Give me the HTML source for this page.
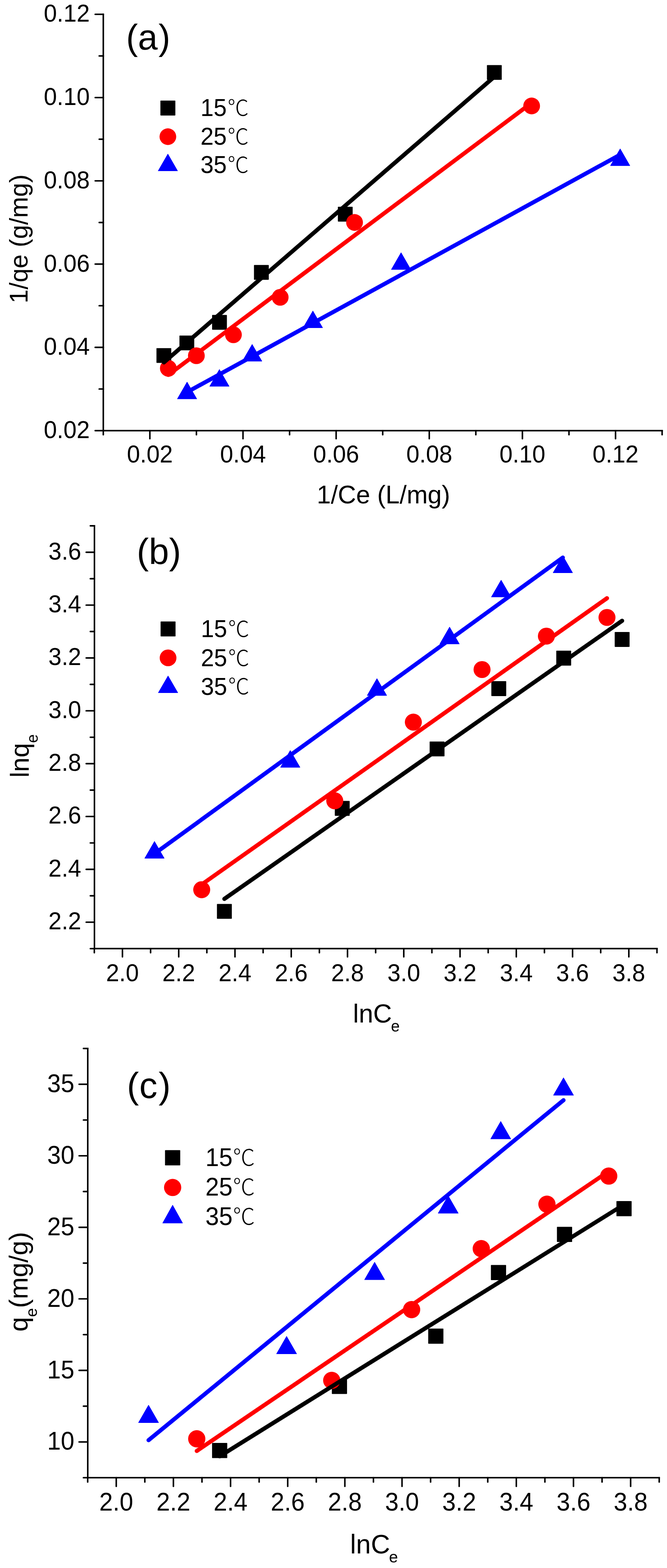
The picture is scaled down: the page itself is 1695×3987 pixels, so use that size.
<!DOCTYPE html>
<html><head><meta charset="utf-8"><title>Adsorption isotherm fits</title>
<style>html,body{margin:0;padding:0;background:#fff;} svg{display:block;}</style></head>
<body>
<svg width="1695" height="3987" viewBox="0 0 1695 3987" font-family="'Liberation Sans', Arial, sans-serif">
<rect width="1695" height="3987" fill="#fff"/>
<g stroke="#000" stroke-width="3.9" stroke-linecap="round" fill="none">
<line x1="262.5" y1="36.4" x2="262.5" y2="1095" stroke-linecap="square"/>
<line x1="262.5" y1="1095" x2="1682.58" y2="1095" stroke-linecap="square"/>
<line x1="241.9" y1="1095" x2="262.5" y2="1095"/>
<line x1="241.9" y1="883.28" x2="262.5" y2="883.28"/>
<line x1="241.9" y1="671.56" x2="262.5" y2="671.56"/>
<line x1="241.9" y1="459.84" x2="262.5" y2="459.84"/>
<line x1="241.9" y1="248.12" x2="262.5" y2="248.12"/>
<line x1="241.9" y1="36.4" x2="262.5" y2="36.4"/>
<line x1="252.1" y1="989.14" x2="262.5" y2="989.14"/>
<line x1="252.1" y1="777.42" x2="262.5" y2="777.42"/>
<line x1="252.1" y1="565.7" x2="262.5" y2="565.7"/>
<line x1="252.1" y1="353.98" x2="262.5" y2="353.98"/>
<line x1="252.1" y1="142.26" x2="262.5" y2="142.26"/>
<line x1="380.84" y1="1095" x2="380.84" y2="1115.6"/>
<line x1="617.52" y1="1095" x2="617.52" y2="1115.6"/>
<line x1="854.2" y1="1095" x2="854.2" y2="1115.6"/>
<line x1="1090.88" y1="1095" x2="1090.88" y2="1115.6"/>
<line x1="1327.56" y1="1095" x2="1327.56" y2="1115.6"/>
<line x1="1564.24" y1="1095" x2="1564.24" y2="1115.6"/>
<line x1="262.5" y1="1095" x2="262.5" y2="1105.4"/>
<line x1="499.18" y1="1095" x2="499.18" y2="1105.4"/>
<line x1="735.86" y1="1095" x2="735.86" y2="1105.4"/>
<line x1="972.54" y1="1095" x2="972.54" y2="1105.4"/>
<line x1="1209.22" y1="1095" x2="1209.22" y2="1105.4"/>
<line x1="1445.9" y1="1095" x2="1445.9" y2="1105.4"/>
<line x1="1682.58" y1="1095" x2="1682.58" y2="1105.4"/>
</g>
<g font-size="60" fill="#000">
<text transform="translate(228,1114) scale(1,1.04)" text-anchor="end">0.02</text>
<text transform="translate(228,902.28) scale(1,1.04)" text-anchor="end">0.04</text>
<text transform="translate(228,690.56) scale(1,1.04)" text-anchor="end">0.06</text>
<text transform="translate(228,478.84) scale(1,1.04)" text-anchor="end">0.08</text>
<text transform="translate(228,267.12) scale(1,1.04)" text-anchor="end">0.10</text>
<text transform="translate(228,55.4) scale(1,1.04)" text-anchor="end">0.12</text>
<text transform="translate(380.84,1176.4) scale(1,1.04)" text-anchor="middle">0.02</text>
<text transform="translate(617.52,1176.4) scale(1,1.04)" text-anchor="middle">0.04</text>
<text transform="translate(854.2,1176.4) scale(1,1.04)" text-anchor="middle">0.06</text>
<text transform="translate(1090.88,1176.4) scale(1,1.04)" text-anchor="middle">0.08</text>
<text transform="translate(1327.56,1176.4) scale(1,1.04)" text-anchor="middle">0.10</text>
<text transform="translate(1564.24,1176.4) scale(1,1.04)" text-anchor="middle">0.12</text>
</g>
<rect x="397.6" y="885.2" width="37.6" height="37.6" rx="1.1" fill="#000"/>
<rect x="456" y="853.2" width="37.6" height="37.6" rx="1.1" fill="#000"/>
<rect x="539" y="800.8" width="37.6" height="37.6" rx="1.1" fill="#000"/>
<rect x="645.4" y="673.8" width="37.6" height="37.6" rx="1.1" fill="#000"/>
<rect x="858.6" y="525.8" width="37.6" height="37.6" rx="1.1" fill="#000"/>
<rect x="1237.4" y="165.4" width="37.6" height="37.6" rx="1.1" fill="#000"/>
<circle cx="427.8" cy="936.5" r="21.3" fill="#f00"/>
<circle cx="499" cy="904.5" r="21.3" fill="#f00"/>
<circle cx="593.2" cy="851.2" r="21.3" fill="#f00"/>
<circle cx="712" cy="756" r="21.3" fill="#f00"/>
<circle cx="901" cy="565.6" r="21.3" fill="#f00"/>
<circle cx="1351" cy="269.4" r="21.3" fill="#f00"/>
<path d="M475.4 971.6L500 1014.2L450.8 1014.2Z" fill="#00f" stroke="#00f" stroke-width="1.2" stroke-linejoin="round"/>
<path d="M557.6 939.6L582.2 982.2L533 982.2Z" fill="#00f" stroke="#00f" stroke-width="1.2" stroke-linejoin="round"/>
<path d="M640.8 875.7L665.4 918.3L616.2 918.3Z" fill="#00f" stroke="#00f" stroke-width="1.2" stroke-linejoin="round"/>
<path d="M795.1 790.7L819.7 833.3L770.5 833.3Z" fill="#00f" stroke="#00f" stroke-width="1.2" stroke-linejoin="round"/>
<path d="M1019.2 642.6L1043.8 685.2L994.6 685.2Z" fill="#00f" stroke="#00f" stroke-width="1.2" stroke-linejoin="round"/>
<path d="M1576 378.6L1600.6 421.2L1551.4 421.2Z" fill="#00f" stroke="#00f" stroke-width="1.2" stroke-linejoin="round"/>
<line x1="416.4" y1="921.45" x2="1256.2" y2="195.34" stroke="#000" stroke-width="10.5" stroke-linecap="round"/>
<line x1="427.8" y1="953.31" x2="1351" y2="261.51" stroke="#f00" stroke-width="10.5" stroke-linecap="round"/>
<line x1="475.4" y1="997.05" x2="1576" y2="393.38" stroke="#00f" stroke-width="10.5" stroke-linecap="round"/>
<rect x="407.6" y="255.7" width="38" height="38" rx="1.1" fill="#000"/>
<circle cx="426.6" cy="347.5" r="21.2" fill="#f00"/>
<path d="M426.6 391.8L451.2 434.5L402 434.5Z" fill="#00f" stroke="#00f" stroke-width="1.2" stroke-linejoin="round"/>
<text transform="translate(509.5,295.2) scale(1,1.04)" font-size="60">15<tspan font-family="'Noto Sans CJK SC', 'Noto Sans CJK JP', sans-serif" font-weight="300" font-size="54" dx="2" dy="-1">℃</tspan></text>
<text transform="translate(509.5,368) scale(1,1.04)" font-size="60">25<tspan font-family="'Noto Sans CJK SC', 'Noto Sans CJK JP', sans-serif" font-weight="300" font-size="54" dx="2" dy="-1">℃</tspan></text>
<text transform="translate(509.5,439.8) scale(1,1.04)" font-size="60">35<tspan font-family="'Noto Sans CJK SC', 'Noto Sans CJK JP', sans-serif" font-weight="300" font-size="54" dx="2" dy="-1">℃</tspan></text>
<text x="320.6" y="126" font-size="90">(a<tspan dx="2">)</tspan></text>
<text x="974.5" y="1280" font-size="64.2" text-anchor="middle">1/Ce (L/mg)</text>
<text transform="translate(70,607.5) rotate(-90)" x="0" y="0" font-size="64.2" text-anchor="middle">1/qe (g/mg)</text>
<g stroke="#000" stroke-width="3.9" stroke-linecap="round" fill="none">
<line x1="240" y1="1337.06" x2="240" y2="2412" stroke-linecap="square"/>
<line x1="240" y1="2412" x2="1669.5" y2="2412" stroke-linecap="square"/>
<line x1="219" y1="2344.91" x2="240" y2="2344.91"/>
<line x1="219" y1="2210.53" x2="240" y2="2210.53"/>
<line x1="219" y1="2076.15" x2="240" y2="2076.15"/>
<line x1="219" y1="1941.77" x2="240" y2="1941.77"/>
<line x1="219" y1="1807.39" x2="240" y2="1807.39"/>
<line x1="219" y1="1673.01" x2="240" y2="1673.01"/>
<line x1="219" y1="1538.63" x2="240" y2="1538.63"/>
<line x1="219" y1="1404.25" x2="240" y2="1404.25"/>
<line x1="229.5" y1="2412.1" x2="240" y2="2412.1"/>
<line x1="229.5" y1="2277.72" x2="240" y2="2277.72"/>
<line x1="229.5" y1="2143.34" x2="240" y2="2143.34"/>
<line x1="229.5" y1="2008.96" x2="240" y2="2008.96"/>
<line x1="229.5" y1="1874.58" x2="240" y2="1874.58"/>
<line x1="229.5" y1="1740.2" x2="240" y2="1740.2"/>
<line x1="229.5" y1="1605.82" x2="240" y2="1605.82"/>
<line x1="229.5" y1="1471.44" x2="240" y2="1471.44"/>
<line x1="229.5" y1="1337.06" x2="240" y2="1337.06"/>
<line x1="311.19" y1="2412" x2="311.19" y2="2433"/>
<line x1="454.17" y1="2412" x2="454.17" y2="2433"/>
<line x1="597.15" y1="2412" x2="597.15" y2="2433"/>
<line x1="740.13" y1="2412" x2="740.13" y2="2433"/>
<line x1="883.11" y1="2412" x2="883.11" y2="2433"/>
<line x1="1026.09" y1="2412" x2="1026.09" y2="2433"/>
<line x1="1169.07" y1="2412" x2="1169.07" y2="2433"/>
<line x1="1312.05" y1="2412" x2="1312.05" y2="2433"/>
<line x1="1455.03" y1="2412" x2="1455.03" y2="2433"/>
<line x1="1598.01" y1="2412" x2="1598.01" y2="2433"/>
<line x1="239.7" y1="2412" x2="239.7" y2="2422.5"/>
<line x1="382.68" y1="2412" x2="382.68" y2="2422.5"/>
<line x1="525.66" y1="2412" x2="525.66" y2="2422.5"/>
<line x1="668.64" y1="2412" x2="668.64" y2="2422.5"/>
<line x1="811.62" y1="2412" x2="811.62" y2="2422.5"/>
<line x1="954.6" y1="2412" x2="954.6" y2="2422.5"/>
<line x1="1097.58" y1="2412" x2="1097.58" y2="2422.5"/>
<line x1="1240.56" y1="2412" x2="1240.56" y2="2422.5"/>
<line x1="1383.54" y1="2412" x2="1383.54" y2="2422.5"/>
<line x1="1526.52" y1="2412" x2="1526.52" y2="2422.5"/>
<line x1="1669.5" y1="2412" x2="1669.5" y2="2422.5"/>
</g>
<g font-size="60" fill="#000">
<text transform="translate(206.5,2363.21) scale(1,1.04)" text-anchor="end">2.2</text>
<text transform="translate(206.5,2228.83) scale(1,1.04)" text-anchor="end">2.4</text>
<text transform="translate(206.5,2094.45) scale(1,1.04)" text-anchor="end">2.6</text>
<text transform="translate(206.5,1960.07) scale(1,1.04)" text-anchor="end">2.8</text>
<text transform="translate(206.5,1825.69) scale(1,1.04)" text-anchor="end">3.0</text>
<text transform="translate(206.5,1691.31) scale(1,1.04)" text-anchor="end">3.2</text>
<text transform="translate(206.5,1556.93) scale(1,1.04)" text-anchor="end">3.4</text>
<text transform="translate(206.5,1422.55) scale(1,1.04)" text-anchor="end">3.6</text>
<text transform="translate(311.19,2495.2) scale(1,1.04)" text-anchor="middle">2.0</text>
<text transform="translate(454.17,2495.2) scale(1,1.04)" text-anchor="middle">2.2</text>
<text transform="translate(597.15,2495.2) scale(1,1.04)" text-anchor="middle">2.4</text>
<text transform="translate(740.13,2495.2) scale(1,1.04)" text-anchor="middle">2.6</text>
<text transform="translate(883.11,2495.2) scale(1,1.04)" text-anchor="middle">2.8</text>
<text transform="translate(1026.09,2495.2) scale(1,1.04)" text-anchor="middle">3.0</text>
<text transform="translate(1169.07,2495.2) scale(1,1.04)" text-anchor="middle">3.2</text>
<text transform="translate(1312.05,2495.2) scale(1,1.04)" text-anchor="middle">3.4</text>
<text transform="translate(1455.03,2495.2) scale(1,1.04)" text-anchor="middle">3.6</text>
<text transform="translate(1598.01,2495.2) scale(1,1.04)" text-anchor="middle">3.8</text>
</g>
<rect x="551.3" y="2298.5" width="37.8" height="37.8" rx="1.1" fill="#000"/>
<rect x="850.8" y="2036.6" width="37.8" height="37.8" rx="1.1" fill="#000"/>
<rect x="1091.8" y="1885.4" width="37.8" height="37.8" rx="1.1" fill="#000"/>
<rect x="1248.6" y="1732.1" width="37.8" height="37.8" rx="1.1" fill="#000"/>
<rect x="1413.6" y="1654.6" width="37.8" height="37.8" rx="1.1" fill="#000"/>
<rect x="1562.1" y="1607.1" width="37.8" height="37.8" rx="1.1" fill="#000"/>
<circle cx="512.6" cy="2262.3" r="21.6" fill="#f00"/>
<circle cx="850.7" cy="2036.2" r="21.6" fill="#f00"/>
<circle cx="1050.4" cy="1836.2" r="21.6" fill="#f00"/>
<circle cx="1225" cy="1702.5" r="21.6" fill="#f00"/>
<circle cx="1388.5" cy="1617.5" r="21.6" fill="#f00"/>
<circle cx="1542.5" cy="1570" r="21.6" fill="#f00"/>
<path d="M392.6 2139.6L417.25 2182.3L367.95 2182.3Z" fill="#00f" stroke="#00f" stroke-width="1.2" stroke-linejoin="round"/>
<path d="M737.6 1908.4L762.25 1951.1L712.95 1951.1Z" fill="#00f" stroke="#00f" stroke-width="1.2" stroke-linejoin="round"/>
<path d="M957.9 1725.6L982.55 1768.3L933.25 1768.3Z" fill="#00f" stroke="#00f" stroke-width="1.2" stroke-linejoin="round"/>
<path d="M1142.5 1594.6L1167.15 1637.3L1117.85 1637.3Z" fill="#00f" stroke="#00f" stroke-width="1.2" stroke-linejoin="round"/>
<path d="M1273.5 1475.2L1298.15 1517.9L1248.85 1517.9Z" fill="#00f" stroke="#00f" stroke-width="1.2" stroke-linejoin="round"/>
<path d="M1430.3 1413.6L1454.95 1456.3L1405.65 1456.3Z" fill="#00f" stroke="#00f" stroke-width="1.2" stroke-linejoin="round"/>
<line x1="570.2" y1="2285.64" x2="1581" y2="1578.42" stroke="#000" stroke-width="10.5" stroke-linecap="round"/>
<line x1="512.6" y1="2249.07" x2="1542.5" y2="1521.11" stroke="#f00" stroke-width="10.5" stroke-linecap="round"/>
<line x1="392.6" y1="2170.85" x2="1430.3" y2="1417.74" stroke="#00f" stroke-width="10.5" stroke-linecap="round"/>
<rect x="408.1" y="1580.3" width="38" height="38" rx="1.1" fill="#000"/>
<circle cx="427.1" cy="1672.8" r="21.3" fill="#f00"/>
<path d="M427.1 1718.8L451.7 1761.4L402.5 1761.4Z" fill="#00f" stroke="#00f" stroke-width="1.2" stroke-linejoin="round"/>
<text transform="translate(510.5,1620.3) scale(1,1.04)" font-size="60">15<tspan font-family="'Noto Sans CJK SC', 'Noto Sans CJK JP', sans-serif" font-weight="300" font-size="54" dx="2.5" dy="-1">℃</tspan></text>
<text transform="translate(510.5,1693.6) scale(1,1.04)" font-size="60">25<tspan font-family="'Noto Sans CJK SC', 'Noto Sans CJK JP', sans-serif" font-weight="300" font-size="54" dx="2.5" dy="-1">℃</tspan></text>
<text transform="translate(510.5,1766.5) scale(1,1.04)" font-size="60">35<tspan font-family="'Noto Sans CJK SC', 'Noto Sans CJK JP', sans-serif" font-weight="300" font-size="54" dx="2.5" dy="-1">℃</tspan></text>
<text x="347.6" y="1434" font-size="92">(b)</text>
<text x="956.4" y="2600" font-size="66" text-anchor="middle">lnC<tspan font-size="40" dx="-2.5" dy="23">e</tspan></text>
<text transform="translate(72.9,1977.3) rotate(-90)" x="0" y="0" font-size="66">lnq<tspan font-size="40" dy="23">e</tspan></text>
<g stroke="#000" stroke-width="3.9" stroke-linecap="round" fill="none">
<line x1="223" y1="2666" x2="223" y2="3757.4" stroke-linecap="square"/>
<line x1="223" y1="3757.4" x2="1675.2" y2="3757.4" stroke-linecap="square"/>
<line x1="201" y1="3666.45" x2="223" y2="3666.45"/>
<line x1="201" y1="3484.55" x2="223" y2="3484.55"/>
<line x1="201" y1="3302.65" x2="223" y2="3302.65"/>
<line x1="201" y1="3120.75" x2="223" y2="3120.75"/>
<line x1="201" y1="2938.85" x2="223" y2="2938.85"/>
<line x1="201" y1="2756.95" x2="223" y2="2756.95"/>
<line x1="212" y1="3757.4" x2="223" y2="3757.4"/>
<line x1="212" y1="3575.5" x2="223" y2="3575.5"/>
<line x1="212" y1="3393.6" x2="223" y2="3393.6"/>
<line x1="212" y1="3211.7" x2="223" y2="3211.7"/>
<line x1="212" y1="3029.8" x2="223" y2="3029.8"/>
<line x1="212" y1="2847.9" x2="223" y2="2847.9"/>
<line x1="212" y1="2666" x2="223" y2="2666"/>
<line x1="295.42" y1="3757.4" x2="295.42" y2="3779.4"/>
<line x1="440.66" y1="3757.4" x2="440.66" y2="3779.4"/>
<line x1="585.9" y1="3757.4" x2="585.9" y2="3779.4"/>
<line x1="731.14" y1="3757.4" x2="731.14" y2="3779.4"/>
<line x1="876.38" y1="3757.4" x2="876.38" y2="3779.4"/>
<line x1="1021.62" y1="3757.4" x2="1021.62" y2="3779.4"/>
<line x1="1166.86" y1="3757.4" x2="1166.86" y2="3779.4"/>
<line x1="1312.1" y1="3757.4" x2="1312.1" y2="3779.4"/>
<line x1="1457.34" y1="3757.4" x2="1457.34" y2="3779.4"/>
<line x1="1602.58" y1="3757.4" x2="1602.58" y2="3779.4"/>
<line x1="222.8" y1="3757.4" x2="222.8" y2="3768.4"/>
<line x1="368.04" y1="3757.4" x2="368.04" y2="3768.4"/>
<line x1="513.28" y1="3757.4" x2="513.28" y2="3768.4"/>
<line x1="658.52" y1="3757.4" x2="658.52" y2="3768.4"/>
<line x1="803.76" y1="3757.4" x2="803.76" y2="3768.4"/>
<line x1="949" y1="3757.4" x2="949" y2="3768.4"/>
<line x1="1094.24" y1="3757.4" x2="1094.24" y2="3768.4"/>
<line x1="1239.48" y1="3757.4" x2="1239.48" y2="3768.4"/>
<line x1="1384.72" y1="3757.4" x2="1384.72" y2="3768.4"/>
<line x1="1529.96" y1="3757.4" x2="1529.96" y2="3768.4"/>
<line x1="1675.2" y1="3757.4" x2="1675.2" y2="3768.4"/>
</g>
<g font-size="62" fill="#000">
<text transform="translate(189,3686.45) scale(1,1.04)" text-anchor="end">10</text>
<text transform="translate(189,3504.55) scale(1,1.04)" text-anchor="end">15</text>
<text transform="translate(189,3322.65) scale(1,1.04)" text-anchor="end">20</text>
<text transform="translate(189,3140.75) scale(1,1.04)" text-anchor="end">25</text>
<text transform="translate(189,2958.85) scale(1,1.04)" text-anchor="end">30</text>
<text transform="translate(189,2776.95) scale(1,1.04)" text-anchor="end">35</text>
<text transform="translate(295.42,3841.4) scale(1,1.04)" text-anchor="middle">2.0</text>
<text transform="translate(440.66,3841.4) scale(1,1.04)" text-anchor="middle">2.2</text>
<text transform="translate(585.9,3841.4) scale(1,1.04)" text-anchor="middle">2.4</text>
<text transform="translate(731.14,3841.4) scale(1,1.04)" text-anchor="middle">2.6</text>
<text transform="translate(876.38,3841.4) scale(1,1.04)" text-anchor="middle">2.8</text>
<text transform="translate(1021.62,3841.4) scale(1,1.04)" text-anchor="middle">3.0</text>
<text transform="translate(1166.86,3841.4) scale(1,1.04)" text-anchor="middle">3.2</text>
<text transform="translate(1312.1,3841.4) scale(1,1.04)" text-anchor="middle">3.4</text>
<text transform="translate(1457.34,3841.4) scale(1,1.04)" text-anchor="middle">3.6</text>
<text transform="translate(1602.58,3841.4) scale(1,1.04)" text-anchor="middle">3.8</text>
</g>
<rect x="538.9" y="3668.9" width="38.6" height="38.6" rx="1.1" fill="#000"/>
<rect x="843.3" y="3505.9" width="38.6" height="38.6" rx="1.1" fill="#000"/>
<rect x="1088.2" y="3378.2" width="38.6" height="38.6" rx="1.1" fill="#000"/>
<rect x="1247.5" y="3216.5" width="38.6" height="38.6" rx="1.1" fill="#000"/>
<rect x="1415.3" y="3119.4" width="38.6" height="38.6" rx="1.1" fill="#000"/>
<rect x="1566.5" y="3053.9" width="38.6" height="38.6" rx="1.1" fill="#000"/>
<circle cx="500" cy="3658.5" r="21.9" fill="#f00"/>
<circle cx="843" cy="3510" r="21.9" fill="#f00"/>
<circle cx="1046" cy="3330" r="21.9" fill="#f00"/>
<circle cx="1223" cy="3175" r="21.9" fill="#f00"/>
<circle cx="1389.9" cy="3061.9" r="21.9" fill="#f00"/>
<circle cx="1546.9" cy="2990.4" r="21.9" fill="#f00"/>
<path d="M377.5 3573.1L402.9 3617.4L352.1 3617.4Z" fill="#00f" stroke="#00f" stroke-width="1.2" stroke-linejoin="round"/>
<path d="M728.3 3398.1L753.7 3442.4L702.9 3442.4Z" fill="#00f" stroke="#00f" stroke-width="1.2" stroke-linejoin="round"/>
<path d="M952 3209.6L977.4 3253.9L926.6 3253.9Z" fill="#00f" stroke="#00f" stroke-width="1.2" stroke-linejoin="round"/>
<path d="M1139 3040.6L1164.4 3084.9L1113.6 3084.9Z" fill="#00f" stroke="#00f" stroke-width="1.2" stroke-linejoin="round"/>
<path d="M1272.5 2851.6L1297.9 2895.9L1247.1 2895.9Z" fill="#00f" stroke="#00f" stroke-width="1.2" stroke-linejoin="round"/>
<path d="M1432 2740.6L1457.4 2784.9L1406.6 2784.9Z" fill="#00f" stroke="#00f" stroke-width="1.2" stroke-linejoin="round"/>
<line x1="558.2" y1="3702.93" x2="1585.8" y2="3062.89" stroke="#000" stroke-width="10.5" stroke-linecap="round"/>
<line x1="500" y1="3689.37" x2="1546.9" y2="2978.29" stroke="#f00" stroke-width="10.5" stroke-linecap="round"/>
<line x1="377.5" y1="3661.96" x2="1432" y2="2797.5" stroke="#00f" stroke-width="10.5" stroke-linecap="round"/>
<rect x="419.35" y="2924.55" width="38.7" height="38.7" rx="1.1" fill="#000"/>
<circle cx="438.7" cy="3019.4" r="21.9" fill="#f00"/>
<path d="M438.7 3064.6L463.85 3109.9L413.55 3109.9Z" fill="#00f" stroke="#00f" stroke-width="1.2" stroke-linejoin="round"/>
<text transform="translate(522,2965.2) scale(1,1.04)" font-size="62">15<tspan font-family="'Noto Sans CJK SC', 'Noto Sans CJK JP', sans-serif" font-weight="300" font-size="56" dx="1" dy="-1">℃</tspan></text>
<text transform="translate(522,3040) scale(1,1.04)" font-size="62">25<tspan font-family="'Noto Sans CJK SC', 'Noto Sans CJK JP', sans-serif" font-weight="300" font-size="56" dx="1" dy="-1">℃</tspan></text>
<text transform="translate(522,3115) scale(1,1.04)" font-size="62">35<tspan font-family="'Noto Sans CJK SC', 'Noto Sans CJK JP', sans-serif" font-weight="300" font-size="56" dx="1" dy="-1">℃</tspan></text>
<text x="322.6" y="2791.5" font-size="92">(<tspan dx="0.8">c</tspan><tspan dx="3">)</tspan></text>
<text x="950.6" y="3949.5" font-size="67.6" text-anchor="middle">lnC<tspan font-size="41" dx="-2.7" dy="23.5">e</tspan></text>
<text transform="translate(70.4,3386) rotate(-90)" x="0" y="0" font-size="67">q<tspan font-size="41" dy="23.5">e</tspan><tspan dy="-23.5">(mg/g)</tspan></text>
</svg>
</body></html>
